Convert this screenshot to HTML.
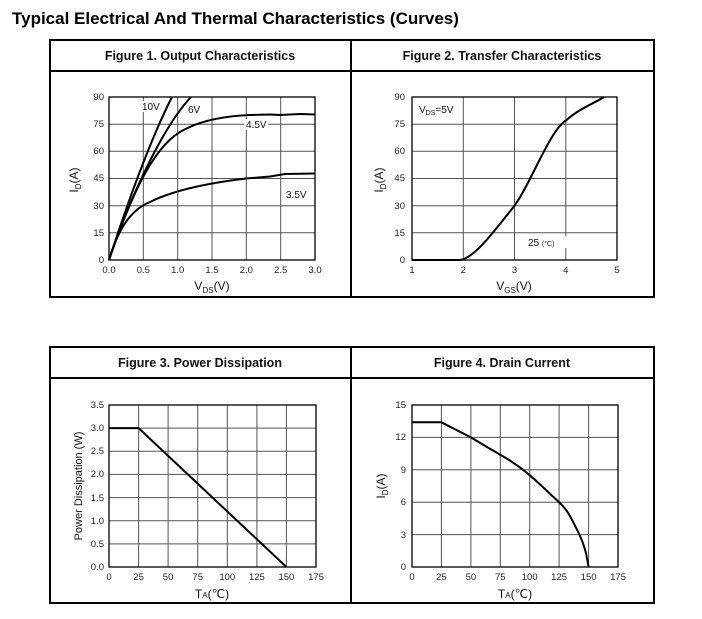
<!DOCTYPE html><html><head><style>body{margin:0;background:#fff}svg{display:block}</style></head><body>
<svg width="702" height="619" xmlns="http://www.w3.org/2000/svg" font-family="Liberation Sans, sans-serif">
<text x="12" y="24" font-size="17" font-weight="bold" fill="#000">Typical Electrical And Thermal Characteristics (Curves)</text>
<g fill="none" stroke="#000" stroke-width="2">
<rect x="50" y="40" width="604" height="257"/><line x1="50" y1="71" x2="654" y2="71"/><line x1="351" y1="40" x2="351" y2="297"/>
<rect x="50" y="347" width="604" height="256"/><line x1="50" y1="378" x2="654" y2="378"/><line x1="351" y1="347" x2="351" y2="603"/>
</g>
<g font-size="12.5" font-weight="bold" text-anchor="middle" fill="#111">
<text x="200" y="60">Figure 1. Output Characteristics</text>
<text x="502" y="60">Figure 2. Transfer Characteristics</text>
<text x="200" y="367">Figure 3. Power Dissipation</text>
<text x="502" y="367">Figure 4. Drain Current</text>
</g>
<g stroke="#555" stroke-width="1" fill="none">
<path d="M143.3 97V260M177.7 97V260M212 97V260M246.3 97V260M280.7 97V260M109 124.2H315M109 151.3H315M109 178.5H315M109 205.7H315M109 232.8H315"/>
<path d="M463.3 97V260M514.5 97V260M565.8 97V260M412 124.2H617M412 151.3H617M412 178.5H617M412 205.7H617M412 232.8H617"/>
<path d="M138.6 405V567M168.1 405V567M197.7 405V567M227.3 405V567M256.9 405V567M286.4 405V567M109 428.1H316M109 451.3H316M109 474.4H316M109 497.6H316M109 520.7H316M109 543.9H316"/>
<path d="M441.4 405V567M470.9 405V567M500.3 405V567M529.7 405V567M559.1 405V567M588.6 405V567M412 437.4H618M412 469.8H618M412 502.2H618M412 534.6H618"/>
</g>
<g stroke="#000" stroke-width="1.3" fill="none">
<rect x="109" y="97" width="206" height="163"/><rect x="412" y="97" width="205" height="163"/>
<rect x="109" y="405" width="207" height="162"/><rect x="412" y="405" width="206" height="162"/>
</g>
<g stroke="#000" stroke-width="2" fill="none" stroke-linejoin="round">
<path d="M109 260C125 210 150 140 172 97"/>
<path d="M109 260C125 210 160 130 191 97"/>
<path d="M109 260C128 205 150 150 180 132C200 120 225 116 250 115L270 114.5 280 115 300 114 315 114.5"/>
<path d="M109 260C118 230 130 210 150 202C170 192 200 184 246 178.5L270 176.5 285 174 315 173.5"/>
<path d="M412 260L460 260C475 258 495 230 514.5 205.7C530 185 550 130 565.8 120.6C580 108 595 103 604 97"/>
<path d="M109 428.1H138.6L286.4 567"/>
<path d="M412 422.3H441.4L470.9 437.4C485 446 492 450 500.3 454.7S520 467 529.7 475.2S550 494 559.1 502.2S572 520 576.8 529.2S584 545 586.2 554L588.6 567"/>
</g>
<g font-size="9.5" fill="#222" text-anchor="end">
<text x="104" y="100">90</text><text x="104" y="127">75</text><text x="104" y="154">60</text><text x="104" y="181">45</text><text x="104" y="209">30</text><text x="104" y="236">15</text><text x="104" y="263">0</text>
<text x="405" y="100">90</text><text x="405" y="127">75</text><text x="405" y="154">60</text><text x="405" y="181">45</text><text x="405" y="209">30</text><text x="405" y="236">15</text><text x="405" y="263">0</text>
<text x="104" y="408">3.5</text><text x="104" y="431">3.0</text><text x="104" y="454">2.5</text><text x="104" y="477">2.0</text><text x="104" y="501">1.5</text><text x="104" y="524">1.0</text><text x="104" y="547">0.5</text><text x="104" y="570">0.0</text>
<text x="406" y="408">15</text><text x="406" y="440">12</text><text x="406" y="473">9</text><text x="406" y="505">6</text><text x="406" y="538">3</text><text x="406" y="570">0</text>
</g>
<g font-size="9.5" fill="#222" text-anchor="middle">
<text x="109" y="273">0.0</text><text x="143.3" y="273">0.5</text><text x="177.7" y="273">1.0</text><text x="212" y="273">1.5</text><text x="246.3" y="273">2.0</text><text x="280.7" y="273">2.5</text><text x="315" y="273">3.0</text>
<text x="412" y="273">1</text><text x="463.3" y="273">2</text><text x="514.5" y="273">3</text><text x="565.8" y="273">4</text><text x="617" y="273">5</text>
<text x="109" y="580">0</text><text x="138.6" y="580">25</text><text x="168.1" y="580">50</text><text x="197.7" y="580">75</text><text x="227.3" y="580">100</text><text x="256.9" y="580">125</text><text x="286.4" y="580">150</text><text x="316" y="580">175</text>
<text x="412" y="580">0</text><text x="441.4" y="580">25</text><text x="470.9" y="580">50</text><text x="500.3" y="580">75</text><text x="529.7" y="580">100</text><text x="559.1" y="580">125</text><text x="588.6" y="580">150</text><text x="618" y="580">175</text>
</g>
<g font-size="10" fill="#111">
<rect x="140" y="101" width="22" height="11" fill="#fff"/><text x="142" y="110">10V</text>
<text x="188" y="113">6V</text>
<rect x="244" y="119" width="24" height="11" fill="#fff"/><text x="246" y="128">4.5V</text>
<text x="286" y="198">3.5V</text>
<text x="419" y="113">V<tspan font-size="7" dy="2">DS</tspan><tspan dy="-2">=5V</tspan></text>
<rect x="527" y="236" width="54" height="12" fill="#fff"/><text x="528" y="246">25 <tspan font-size="7">(°C)</tspan></text>
</g>
<g font-size="12" fill="#111" text-anchor="middle">
<text x="212" y="290">V<tspan font-size="8" dy="3">DS</tspan><tspan dy="-3">(V)</tspan></text>
<text x="514" y="290">V<tspan font-size="8" dy="3">GS</tspan><tspan dy="-3">(V)</tspan></text>
<text x="212" y="598">T<tspan font-size="8">A</tspan>(℃)</text>
<text x="515" y="598">T<tspan font-size="8">A</tspan>(℃)</text>
<text transform="translate(78 180) rotate(-90)">I<tspan font-size="8" dy="3">D</tspan><tspan dy="-3">(A)</tspan></text>
<text transform="translate(383 180) rotate(-90)">I<tspan font-size="8" dy="3">D</tspan><tspan dy="-3">(A)</tspan></text>
<text transform="translate(385 486) rotate(-90)">I<tspan font-size="8" dy="3">D</tspan><tspan dy="-3">(A)</tspan></text>
<text transform="translate(82 486) rotate(-90)" font-size="11">Power Dissipation (W)</text>
</g>
</svg>
</body></html>
